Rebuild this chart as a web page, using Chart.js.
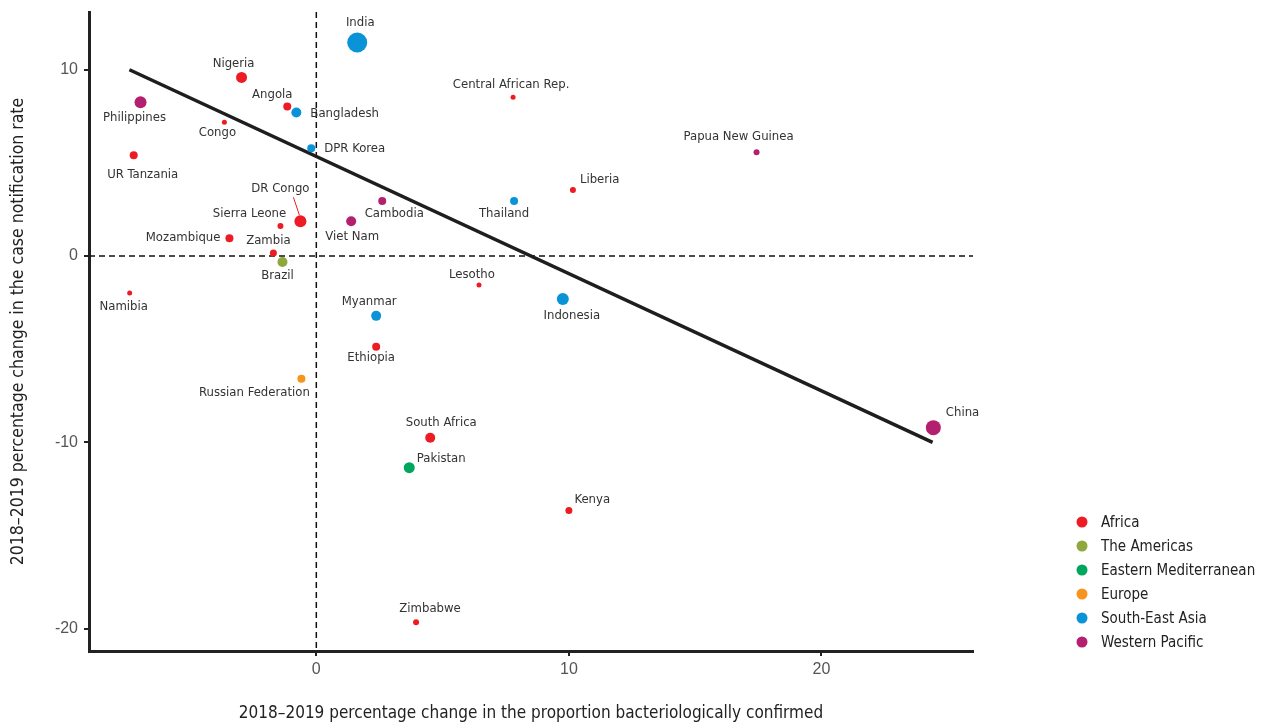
<!DOCTYPE html>
<html>
<head>
<meta charset="utf-8">
<script src="https://cdn.jsdelivr.net/npm/chart.js@4"></script>
<style>
  html, body { margin: 0; padding: 0; background: #fff; }
  #wrap { width: 1266px; height: 724px; position: relative; }
</style>
</head>
<body>
<div id="wrap"><canvas id="myChart"></canvas></div>
<script>
// values
const countries = ['India', 'Nigeria', 'Angola', 'Bangladesh', 'Philippines', 'Congo', 'UR Tanzania',
  'DPR Korea', 'DR Congo', 'Sierra Leone', 'Mozambique', 'Zambia', 'Brazil', 'Cambodia', 'Viet Nam',
  'Central African Rep.', 'Thailand', 'Liberia', 'Papua New Guinea', 'Lesotho', 'Indonesia', 'Namibia',
  'Myanmar', 'Ethiopia', 'Russian Federation', 'South Africa', 'Pakistan', 'Kenya', 'Zimbabwe', 'China'];
const regionOf = ['South-East Asia', 'Africa', 'Africa', 'South-East Asia', 'Western Pacific', 'Africa', 'Africa',
  'South-East Asia', 'Africa', 'Africa', 'Africa', 'Africa', 'The Americas', 'Western Pacific', 'Western Pacific',
  'Africa', 'South-East Asia', 'Africa', 'Western Pacific', 'Africa', 'South-East Asia', 'Africa',
  'South-East Asia', 'Africa', 'Europe', 'Africa', 'Eastern Mediterranean', 'Africa', 'Africa', 'Western Pacific'];
const changeConfirmed = [1.62, -2.96, -1.15, -0.79, -6.96, -3.64, -7.23, -0.2, -0.63, -1.42, -3.44, -1.7, -1.34,
  2.61, 1.38, 7.79, 7.83, 10.16, 17.43, 6.44, 9.76, -7.39, 2.37, 2.37, -0.59, 4.51, 3.68, 10.0, 3.95, 24.43];
const changeNotification = [11.46, 9.59, 8.03, 7.71, 8.25, 7.18, 5.41, 5.78, 1.87, 1.61, 0.96, 0.16, -0.32,
  2.95, 1.87, 8.52, 2.95, 3.54, 5.57, -1.55, -2.30, -1.98, -3.21, -4.87, -6.59, -9.75, -11.36, -13.66, -19.66, -9.21];
const bubbleSize = [10, 5.5, 4, 5, 6, 2.5, 4, 4, 6, 3, 4, 3.5, 5, 4, 5, 2.5, 4, 3, 3, 2.5, 6, 2.5, 5, 4, 4, 5, 5.5, 3.5, 3, 7.5];
const regions = ['Africa', 'The Americas', 'Eastern Mediterranean', 'Europe', 'South-East Asia', 'Western Pacific'];
const fitX = [-7.4, 24.4];
const fitY = [10.0, -10.0];
const xTicks = [0, 10, 20];
const yTicks = [-20, -10, 0, 10];

const regionColors = ['#ed1c24', '#8fa83c', '#00a65d', '#f7941d', '#0b93d8', '#b3206f'];

// label offsets from the point, in pixels: [dx, dy, align]
const labelOffsets = {
  'India': [3, -20, 'center'], 'Nigeria': [-8, -14, 'center'], 'Angola': [-15, -12, 'center'],
  'Bangladesh': [9, 1, 'left'], 'Philippines': [-6, 15, 'center'], 'Congo': [-7, 10, 'center'],
  'UR Tanzania': [9, 19, 'center'], 'DPR Korea': [9, 0, 'left'], 'DR Congo': [-20, -33, 'center'],
  'Sierra Leone': [-31, -12, 'center'], 'Mozambique': [-9, -1, 'right'], 'Zambia': [-5, -12, 'center'],
  'Brazil': [-5, 14, 'center'], 'Cambodia': [12, 13, 'center'], 'Viet Nam': [1, 15, 'center'],
  'Central African Rep.': [-2, -13, 'center'], 'Thailand': [-10, 13, 'center'], 'Liberia': [4, -10, 'left'],
  'Papua New Guinea': [-18, -16, 'center'], 'Lesotho': [-7, -10, 'center'], 'Indonesia': [9, 17, 'center'],
  'Namibia': [-6, 14, 'center'], 'Myanmar': [-7, -14, 'center'], 'Ethiopia': [-5, 11, 'center'],
  'Russian Federation': [-47, 14, 'center'], 'South Africa': [11, -15, 'center'], 'Pakistan': [2, -9, 'left'],
  'Kenya': [2, -11, 'left'], 'Zimbabwe': [14, -14, 'center'], 'China': [5, -15, 'left']
};

const narrow = "'Liberation Sans Narrow', 'DejaVu Sans Condensed', 'Roboto', sans-serif";

const datasets = regions.map((reg, ri) => {
  const idx = countries.map((c, i) => i).filter(i => regionOf[i] === reg);
  return {
    label: reg,
    data: idx.map(i => ({ x: changeConfirmed[i], y: changeNotification[i], name: countries[i] })),
    pointRadius: idx.map(i => bubbleSize[i]),
    backgroundColor: regionColors[ri],
    borderWidth: 0,
    showLine: false,
    order: 1
  };
});
datasets.push({
  label: 'fit',
  type: 'line',
  data: fitX.map((x, i) => ({ x: x, y: fitY[i] })),
  borderColor: '#1e1e1e',
  borderWidth: 3.5,
  pointRadius: 0,
  fill: false,
  order: 2
});

const extras = {
  id: 'extras',
  beforeDatasetsDraw(chart) {
    const { ctx, chartArea, scales } = chart;
    const x0 = scales.x.getPixelForValue(0);
    const y0 = scales.y.getPixelForValue(0);
    ctx.save();
    ctx.strokeStyle = '#111';
    ctx.lineWidth = 1.5;
    ctx.setLineDash([6, 4]);
    ctx.beginPath();
    ctx.moveTo(chartArea.left, y0);
    ctx.lineTo(chartArea.right, y0);
    ctx.moveTo(x0, chartArea.top);
    ctx.lineTo(x0, chartArea.bottom);
    ctx.stroke();
    ctx.restore();
  },
  afterDatasetsDraw(chart) {
    const { ctx, scales } = chart;
    ctx.save();
    ctx.font = '13px ' + narrow;
    ctx.fillStyle = '#333';
    ctx.textBaseline = 'middle';
    countries.forEach((c, i) => {
      const px = scales.x.getPixelForValue(changeConfirmed[i]);
      const py = scales.y.getPixelForValue(changeNotification[i]);
      const o = labelOffsets[c];
      let dx = o[0];
      if (o[2] === 'left') dx += bubbleSize[i];
      ctx.textAlign = o[2];
      ctx.fillText(c, px + dx, py + o[1]);
      if (c === 'DR Congo') {
        ctx.strokeStyle = regionColors[0];
        ctx.lineWidth = 1;
        ctx.beginPath();
        ctx.moveTo(px - 7, py - 24);
        ctx.lineTo(px - 1, py - 6);
        ctx.stroke();
      }
    });
    // legend
    ctx.font = '15px ' + narrow;
    ctx.textAlign = 'left';
    regions.forEach((r, i) => {
      const ly = 522 + i * 24;
      ctx.fillStyle = regionColors[i];
      ctx.beginPath();
      ctx.arc(1082, ly, 5.5, 0, Math.PI * 2);
      ctx.fill();
      ctx.fillStyle = '#222';
      ctx.fillText(r, 1101, ly + 1);
    });
    ctx.restore();
  }
};

new Chart(document.getElementById('myChart'), {
  type: 'scatter',
  data: { datasets: datasets },
  plugins: [extras],
  options: {
    responsive: true,
    maintainAspectRatio: false,
    animation: false,
    events: [],
    layout: { padding: { left: 0, top: 12, right: 293, bottom: 0 } },
    plugins: { legend: { display: false }, tooltip: { enabled: false } },
    scales: {
      x: {
        type: 'linear',
        min: -9, max: 26,
        afterFit: s => { s.height = 73; s.paddingLeft = 0; s.paddingRight = 0; },
        afterBuildTicks: s => { s.ticks = xTicks.map(v => ({ value: v })); },
        grid: { display: true, drawOnChartArea: false, drawTicks: true, tickLength: 5, color: '#222', lineWidth: 2 },
        border: { display: true, width: 3, color: '#222' },
        ticks: { color: '#555', font: { family: "'Liberation Sans', Arial, sans-serif", size: 16 }, padding: 4 },
        title: { display: true, text: '2018\u20132019 percentage change in the proportion bacteriologically confirmed',
          color: '#222', font: { family: narrow, size: 17 }, padding: { top: 9, bottom: 0 } }
      },
      y: {
        type: 'linear',
        min: -21.2, max: 13.1,
        afterFit: s => { s.width = 89; s.paddingTop = 0; s.paddingBottom = 0; },
        afterBuildTicks: s => { s.ticks = yTicks.map(v => ({ value: v })); },
        grid: { display: true, drawOnChartArea: false, drawTicks: true, tickLength: 5, color: '#222', lineWidth: 2 },
        border: { display: true, width: 3, color: '#222' },
        ticks: { color: '#555', font: { family: "'Liberation Sans', Arial, sans-serif", size: 16 }, padding: 6 },
        title: { display: true, text: '2018\u20132019 percentage change in the case notification rate',
          color: '#222', font: { family: narrow, size: 17.5 }, padding: { top: 8, bottom: 0 } }
      }
    }
  }
});
</script>
</body>
</html>
